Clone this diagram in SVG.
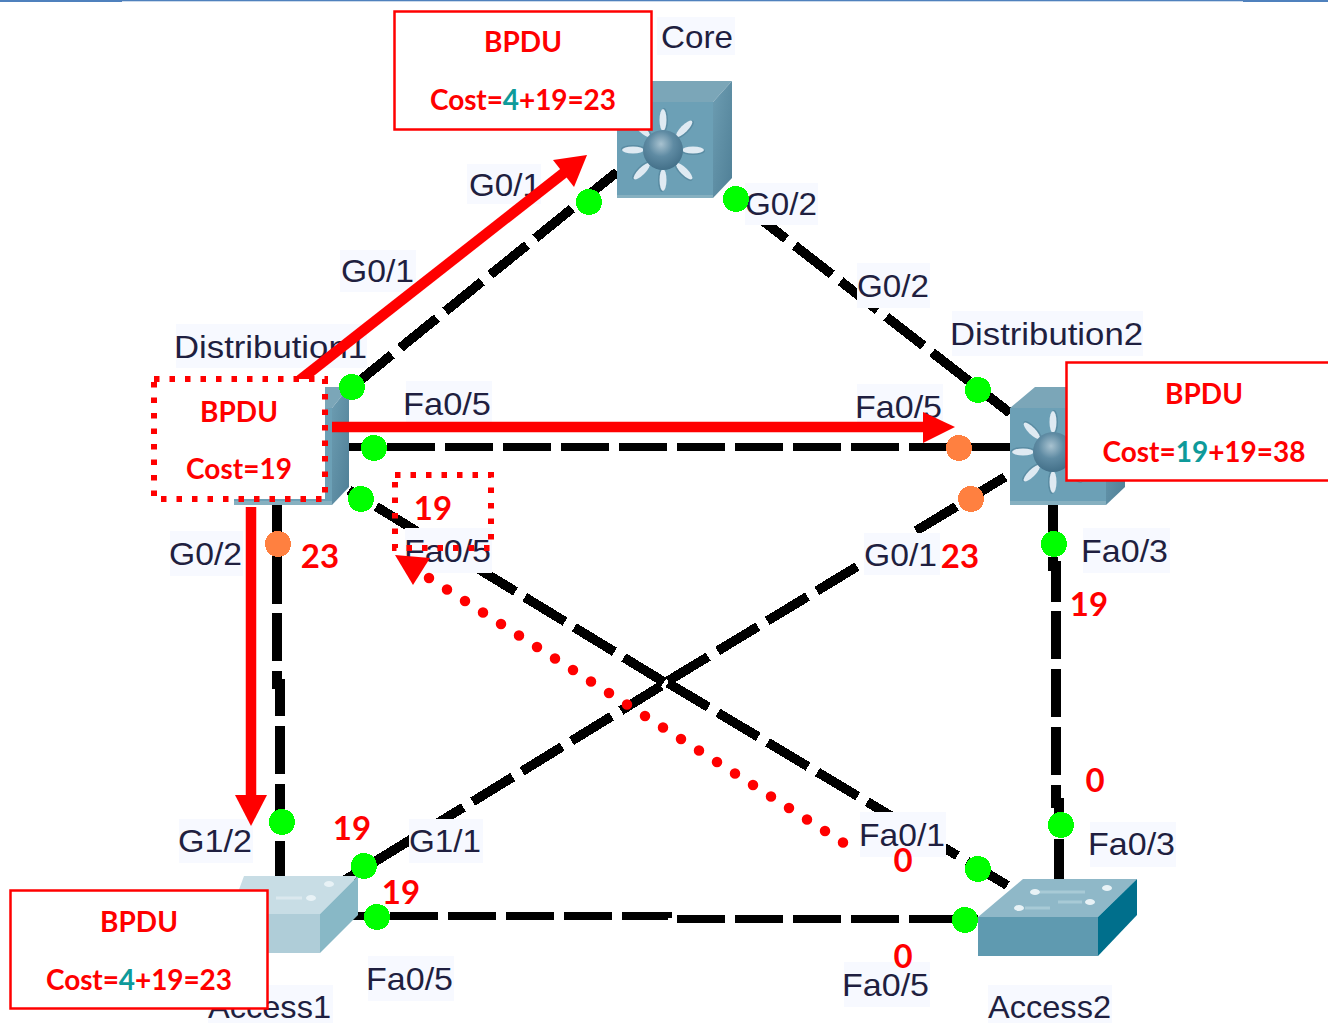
<svg xmlns="http://www.w3.org/2000/svg" width="1328" height="1023" viewBox="0 0 1328 1023">
<style>
.link{fill:none;stroke:#000;stroke-width:9.5;stroke-dasharray:47 11;shape-rendering:crispEdges}
.v{fill:none;stroke:#000;stroke-width:10;stroke-dasharray:48 9.700;shape-rendering:crispEdges}
.h{fill:none;stroke:#000;stroke-width:8.5;stroke-dasharray:48 10;shape-rendering:crispEdges}
.lb{fill:#f7f9ff}
.lt{font-family:"Liberation Sans",Arial,sans-serif;font-size:32px;fill:#1f1f40}
.g{fill:#00ff00}
.o{fill:#ff8040}
.ar{fill:none;stroke:#ff0000;stroke-width:10.5}
.ah{fill:#ff0000}
.box{fill:#fff;stroke:#ff0000;stroke-width:2.5}
.dotbox{fill:none;stroke:#ff0000;stroke-width:6;stroke-dasharray:5.500 10}
.r{font-family:Lato,"Liberation Sans",sans-serif;font-weight:700;font-size:28px;fill:#ff0000;text-anchor:middle}
.n{font-family:Lato,"Liberation Sans",sans-serif;font-weight:700;font-size:33px;fill:#ff0000;text-anchor:middle}
.t{fill:#0e9a9a}
.hi{fill:#e8f2f6}
</style>
<defs>
<linearGradient id="side" x1="0" y1="0" x2="1" y2="1"><stop offset="0" stop-color="#6d9db2"/><stop offset="1" stop-color="#4f7f96"/></linearGradient>
<radialGradient id="hub" cx="0.45" cy="0.35" r="0.7"><stop offset="0" stop-color="#a8c2d0"/><stop offset="0.45" stop-color="#5f8ba3"/><stop offset="1" stop-color="#3f6c85"/></radialGradient>
<g id="star">
<g id="sp2"><ellipse cx="1" cy="-30" rx="4" ry="12" fill="#4f7f96" opacity=".6"/><ellipse cx="0" cy="-30" rx="3.500" ry="11" fill="#dfeaf2"/></g>
<use href="#sp2" transform="rotate(45)"/><use href="#sp2" transform="rotate(90)"/><use href="#sp2" transform="rotate(135)"/><use href="#sp2" transform="rotate(180)"/><use href="#sp2" transform="rotate(225)"/><use href="#sp2" transform="rotate(270)"/><use href="#sp2" transform="rotate(315)"/>
<circle r="20" fill="url(#hub)"/>
</g>
</defs>
<rect width="1328" height="1023" fill="#fff"/>
<rect x="0" y="0" width="1328" height="1.300" fill="#4f81bd"/>
<rect x="0" y="0" width="122" height="2" fill="#4f81bd"/>
<rect x="1243" y="0" width="85" height="2" fill="#4f81bd"/>

<g id="connectors">
<path class="link" d="M617 172L352 387"/>
<path class="link" d="M749 210L1010 413"/>
<path class="h" d="M329 447H1010"/>
<path class="link" d="M664 682L349 490"/>
<path class="link" d="M668 683L1010 887"/>
<path class="link" d="M668 681L1005 477"/>
<path class="link" d="M661 686L345 880"/>
<path class="v" d="M277 498V684H280V876"/>
<path class="v" d="M1053 499V566H1056V803H1059V880"/>
<path class="h" d="M332 916H668V919H978"/>
</g>

<g id="labels">
<rect class="lb" x="657" y="17" width="78" height="38"/><text class="lt" x="661" y="48" textLength="72" lengthAdjust="spacingAndGlyphs">Core</text>
<rect class="lb" x="467" y="164" width="74" height="40"/><text class="lt" x="469" y="196" textLength="72" lengthAdjust="spacingAndGlyphs">G0/1</text>
<rect class="lb" x="745" y="183" width="73" height="42"/><text class="lt" x="745" y="215" textLength="72" lengthAdjust="spacingAndGlyphs">G0/2</text>
<rect class="lb" x="340" y="250" width="76" height="42"/><text class="lt" x="341" y="282" textLength="73" lengthAdjust="spacingAndGlyphs">G0/1</text>
<rect class="lb" x="857" y="263" width="73" height="45"/><text class="lt" x="857" y="297" textLength="72" lengthAdjust="spacingAndGlyphs">G0/2</text>
<rect class="lb" x="176" y="324" width="191" height="44"/><text class="lt" x="174" y="358" textLength="193" lengthAdjust="spacingAndGlyphs">Distribution1</text>
<rect class="lb" x="952" y="311" width="191" height="45"/><text class="lt" x="950" y="345" textLength="193" lengthAdjust="spacingAndGlyphs">Distribution2</text>
<rect class="lb" x="406" y="381" width="86" height="45"/><text class="lt" x="403" y="415" textLength="88" lengthAdjust="spacingAndGlyphs">Fa0/5</text>
<rect class="lb" x="857" y="384" width="86" height="45"/><text class="lt" x="855" y="418" textLength="87" lengthAdjust="spacingAndGlyphs">Fa0/5</text>
<rect class="lb" x="170" y="531" width="73" height="45"/><text class="lt" x="169" y="565" textLength="73" lengthAdjust="spacingAndGlyphs">G0/2</text>
<rect class="lb" x="405" y="528" width="87" height="45"/><text class="lt" x="404" y="562" textLength="87" lengthAdjust="spacingAndGlyphs">Fa0/5</text>
<rect class="lb" x="864" y="533" width="76" height="42"/><text class="lt" x="864" y="566" textLength="73" lengthAdjust="spacingAndGlyphs">G0/1</text>
<rect class="lb" x="1083" y="528" width="87" height="45"/><text class="lt" x="1081" y="562" textLength="87" lengthAdjust="spacingAndGlyphs">Fa0/3</text>
<rect class="lb" x="179" y="819" width="74" height="44"/><text class="lt" x="178" y="852" textLength="74" lengthAdjust="spacingAndGlyphs">G1/2</text>
<rect class="lb" x="409" y="819" width="74" height="44"/><text class="lt" x="409" y="852" textLength="72" lengthAdjust="spacingAndGlyphs">G1/1</text>
<rect class="lb" x="860" y="812" width="86" height="45"/><text class="lt" x="859" y="846" textLength="86" lengthAdjust="spacingAndGlyphs">Fa0/1</text>
<rect class="lb" x="1090" y="822" width="86" height="45"/><text class="lt" x="1088" y="855" textLength="87" lengthAdjust="spacingAndGlyphs">Fa0/3</text>
<rect class="lb" x="368" y="956" width="86" height="45"/><text class="lt" x="366" y="990" textLength="87" lengthAdjust="spacingAndGlyphs">Fa0/5</text>
<rect class="lb" x="844" y="962" width="86" height="45"/><text class="lt" x="842" y="996" textLength="87" lengthAdjust="spacingAndGlyphs">Fa0/5</text>
<rect class="lb" x="208" y="985" width="125" height="38"/><text class="lt" x="208" y="1018" textLength="123" lengthAdjust="spacingAndGlyphs">Access1</text>
<rect class="lb" x="988" y="985" width="124" height="38"/><text class="lt" x="988" y="1018" textLength="123" lengthAdjust="spacingAndGlyphs">Access2</text>
</g>

<g id="Core">
<path fill="#6ca0b6" d="M617 102H713V198H617Z"/>
<path fill="#86b0c0" d="M617 195H713V198H617Z"/>
<path fill="#7ba6b8" d="M617 102L642 81H732L713 102Z"/>
<path fill="url(#side)" d="M713 102L732 81V178L713 198Z"/>
<use href="#star" x="663" y="150"/>
</g>
<g id="Distribution1">
<path fill="#6ca0b6" d="M234 408H332V505H234Z"/>
<path fill="#86b0c0" d="M234 501H332V505H234Z"/>
<path fill="#7ba6b8" d="M234 408L259 387H349L332 408Z"/>
<path fill="url(#side)" d="M332 408L349 387V487L332 505Z"/>
</g>
<g id="Distribution2">
<path fill="#6ca0b6" d="M1010 408H1106V505H1010Z"/>
<path fill="#86b0c0" d="M1010 501H1106V505H1010Z"/>
<path fill="#7ba6b8" d="M1010 408L1035 387H1125L1106 408Z"/>
<path fill="url(#side)" d="M1106 408L1125 387V487L1106 505Z"/>
<use href="#star" x="1053" y="452"/>
</g>
<g id="Access1">
<path d="M230 914H320V953H230Z" fill="#afcdd8"/>
<path d="M230 914L244 876H358L320 914Z" fill="#c8dde5"/>
<path d="M320 914L358 876V915L320 953Z" fill="#88b8c6"/>
<ellipse class="hi" cx="329" cy="884" rx="5" ry="3"/><ellipse class="hi" cx="311" cy="898" rx="5" ry="3"/>
<path d="M276 898H302" stroke="#dbe8ee" stroke-width="3"/>
</g>
<g id="Access2">
<path d="M978 917H1098V956H978Z" fill="#5f9ab0"/>
<path d="M978 917L1023 879H1137L1098 917Z" fill="#8fb8c8"/>
<path d="M1098 917L1137 879V915L1098 956Z" fill="#006f8c"/>
<ellipse class="hi" cx="1035" cy="892" rx="5" ry="3"/><ellipse class="hi" cx="1107" cy="888" rx="5" ry="3"/><ellipse class="hi" cx="1019" cy="908" rx="5" ry="3"/><ellipse class="hi" cx="1090" cy="902" rx="5" ry="3"/>
<path d="M1040 892H1085M1025 908H1050M1058 902H1082" stroke="#a8cad6" stroke-width="3"/>
</g>

<g id="ports" shape-rendering="crispEdges">
<circle class="g" cx="589" cy="202" r="13"/><circle class="g" cx="736" cy="199" r="13"/>
<circle class="g" cx="352" cy="387" r="13"/><circle class="g" cx="978" cy="390" r="13"/>
<circle class="g" cx="374" cy="448" r="13"/><circle class="o" cx="959" cy="448" r="13"/>
<circle class="g" cx="361" cy="499" r="13"/><circle class="o" cx="971" cy="499" r="13"/>
<circle class="o" cx="278" cy="544" r="13"/><circle class="g" cx="1054" cy="544" r="13"/>
<circle class="g" cx="282" cy="822" r="13"/><circle class="g" cx="364" cy="866" r="13"/>
<circle class="g" cx="377" cy="917" r="13"/><circle class="g" cx="965" cy="920" r="13"/>
<circle class="g" cx="978" cy="869" r="13"/><circle class="g" cx="1061" cy="825" r="13"/>
</g>

<g id="arrows">
<path class="ar" d="M300 380L565 172"/><path class="ah" d="M587 155L574 187L553 160Z"/>
<path class="ar" d="M332 427H925"/><path class="ah" d="M955 427L923 412V443Z"/>
<path class="ar" d="M251 507V797"/><path class="ah" d="M251 826L235 795H267Z"/>
<path d="M843 842.500L429 578" fill="none" stroke="#ff0000" stroke-width="10.500" stroke-linecap="round" stroke-dasharray="0 21.360"/>
<path class="ah" d="M413 585L395 555L430 558Z"/>
</g>

<g id="BPDU-core">
<rect class="box" x="394.500" y="11.500" width="257" height="118"/>
<text class="r" x="523" y="52">BPDU</text>
<text class="r" x="523" y="110" textLength="186">Cost=<tspan class="t">4</tspan>+19=23</text>
</g>
<g id="BPDU-d1">
<rect x="154" y="379" width="171" height="120" fill="#fff"/>
<rect class="dotbox" x="154" y="379" width="171" height="120"/>
<text class="r" x="239" y="422">BPDU</text>
<text class="r" x="239" y="479" textLength="106">Cost=19</text>
</g>
<g id="BPDU-d2">
<rect class="box" x="1066.500" y="362.500" width="270" height="118"/>
<text class="r" x="1204" y="404">BPDU</text>
<text class="r" x="1204" y="462" textLength="203">Cost=<tspan class="t">19</tspan>+19=38</text>
</g>
<g id="BPDU-a1">
<rect class="box" x="10.500" y="890.500" width="257" height="118"/>
<text class="r" x="139" y="932">BPDU</text>
<text class="r" x="139" y="990" textLength="186">Cost=<tspan class="t">4</tspan>+19=23</text>
</g>
<rect class="dotbox" x="395" y="475" width="96" height="73"/>

<g id="costs">
<text class="n" x="433" y="520">19</text>
<text class="n" x="320" y="568">23</text>
<text class="n" x="960" y="568">23</text>
<text class="n" x="1089" y="616">19</text>
<text class="n" x="1095" y="792">0</text>
<text class="n" x="352" y="840">19</text>
<text class="n" x="401" y="904">19</text>
<text class="n" x="903" y="872">0</text>
<text class="n" x="903" y="968">0</text>
</g>
</svg>
